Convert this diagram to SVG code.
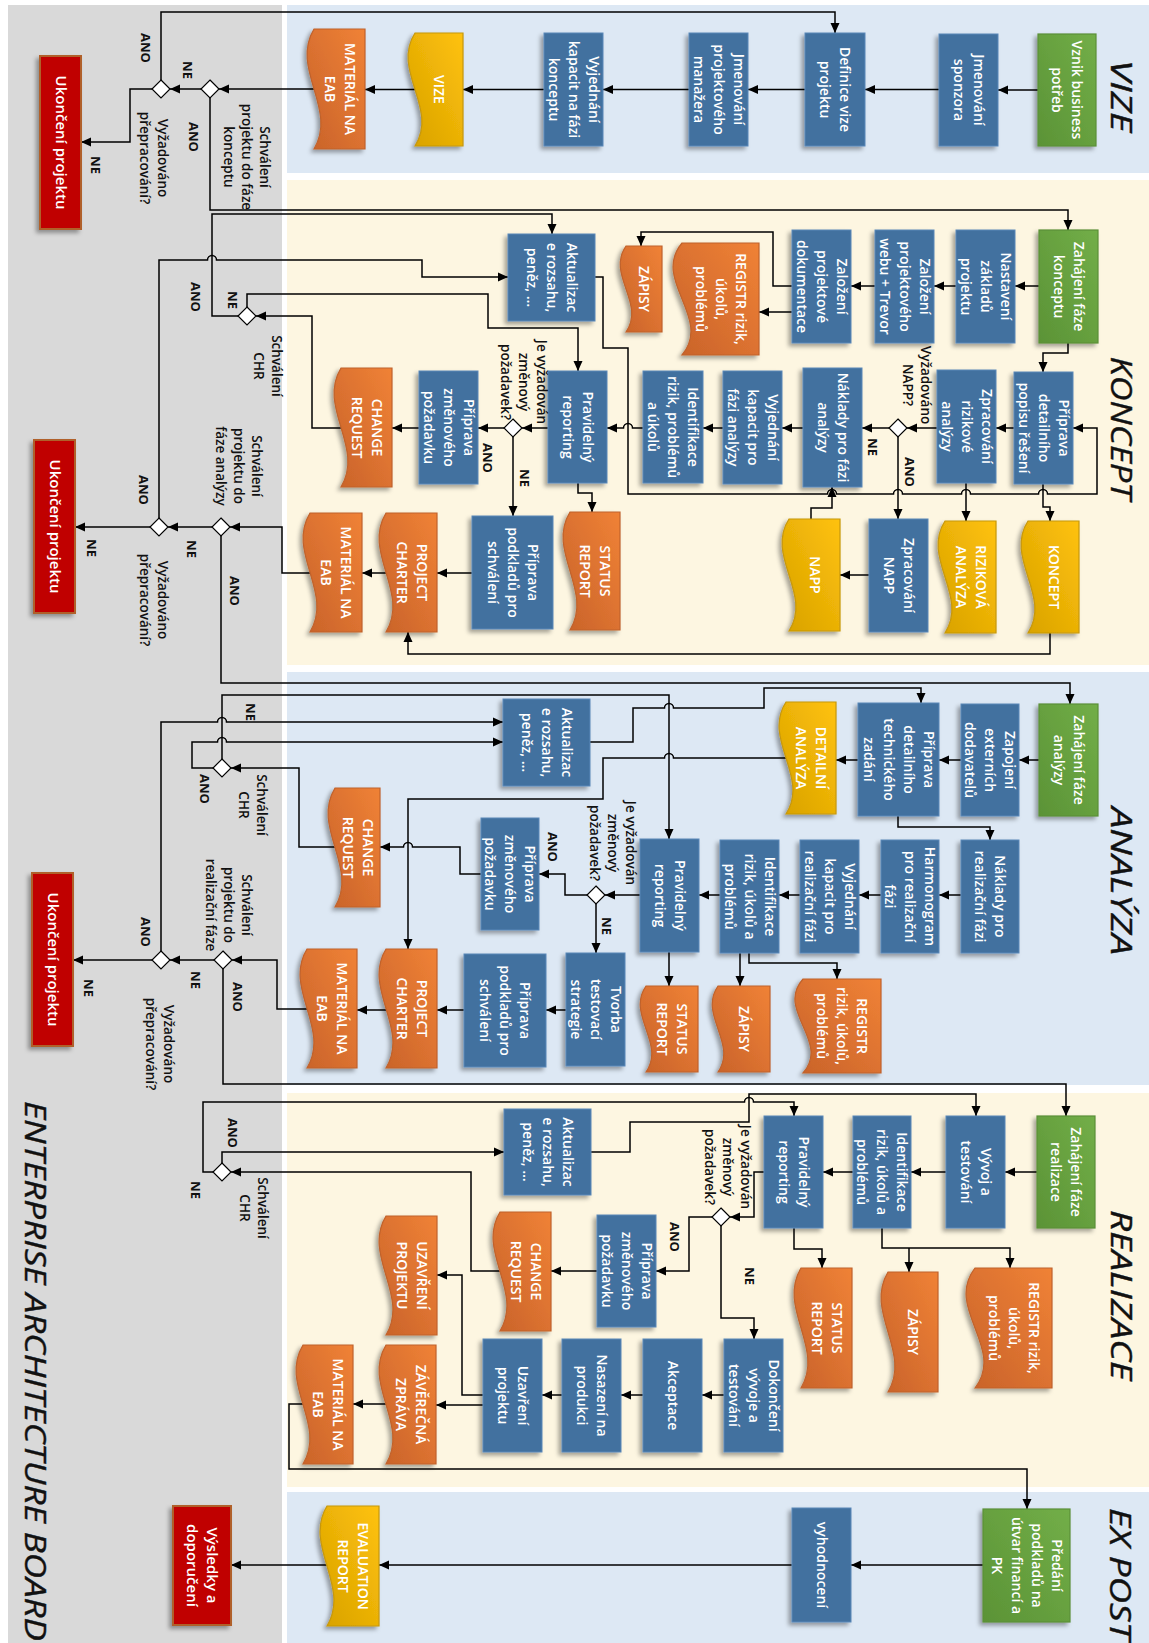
<svg xmlns="http://www.w3.org/2000/svg" width="1149" height="1643" viewBox="0 0 1149 1643">
<defs>
<style>
.lg{fill:#d9d9d9}.lb{fill:#dde8f4}.ly{fill:#fdf6e1}
.p{fill:#43719f;stroke:#5a88b8;stroke-width:1;filter:url(#sh)}
.g{fill:url(#gg);stroke:#5a8f38;stroke-width:1.2;filter:url(#sh)}
.o{fill:url(#go);stroke:#c0622c;stroke-width:1.2;filter:url(#sh)}
.y{fill:url(#gy);stroke:#c6970b;stroke-width:1.2;filter:url(#sh)}
.r{fill:#c00000;stroke:#b0602a;stroke-width:2;filter:url(#sh)}
.d{fill:#fff;stroke:#000;stroke-width:1.2}
.t{font-family:"Open Sans","Liberation Sans",sans-serif;font-size:14px;font-weight:600;fill:#fff;text-anchor:middle}
.tr{font-size:15px}
.l{font-family:"Open Sans","Liberation Sans",sans-serif;font-size:13.5px;font-weight:600;fill:#111;text-anchor:middle}
.b{font-weight:700;font-size:13px}
.ttl{font-family:"Open Sans","DejaVu Sans",sans-serif;font-size:30px;font-style:italic;font-weight:400;fill:#111;stroke:#111;stroke-width:0.4;text-anchor:middle}
.c{fill:none;stroke:#000;stroke-width:1.5;marker-end:url(#ah)}
</style>
<marker id="ah" viewBox="0 0 10 10" refX="10" refY="5" markerWidth="10" markerHeight="10" markerUnits="userSpaceOnUse" orient="auto"><path d="M0,0.5 L10,5 L0,9.5 z" fill="#000"/></marker>
<filter id="sh" x="-25%" y="-15%" width="150%" height="130%"><feDropShadow dx="-3" dy="3" stdDeviation="2" flood-color="#000" flood-opacity="0.35"/></filter>
<linearGradient id="gg" x1="0" y1="1" x2="1" y2="0"><stop offset="0" stop-color="#5b9336"/><stop offset="1" stop-color="#72ae48"/></linearGradient>
<linearGradient id="go" x1="0" y1="1" x2="1" y2="0"><stop offset="0" stop-color="#c8622a"/><stop offset="1" stop-color="#f08236"/></linearGradient>
<linearGradient id="gy" x1="0" y1="1" x2="1" y2="0"><stop offset="0" stop-color="#d7a100"/><stop offset="1" stop-color="#ffc20c"/></linearGradient>
</defs>

<!-- swimlanes -->
<g id="lanes">
<rect class="lg" x="8" y="5" width="274" height="1638"/>
<rect class="lb" x="287" y="5" width="862" height="168"/>
<rect class="ly" x="287" y="180" width="862" height="485"/>
<rect class="lb" x="287" y="672" width="862" height="413"/>
<rect class="ly" x="287" y="1093" width="862" height="394"/>
<rect class="lb" x="287" y="1492" width="862" height="151"/>
<text class="ttl" transform="translate(1122,96) rotate(90)" dy="11" textLength="72" lengthAdjust="spacingAndGlyphs">VIZE</text>
<text class="ttl" transform="translate(1122,428) rotate(90)" dy="11" textLength="143" lengthAdjust="spacingAndGlyphs">KONCEPT</text>
<text class="ttl" transform="translate(1122,881) rotate(90)" dy="11" textLength="148" lengthAdjust="spacingAndGlyphs">ANALÝZA</text>
<text class="ttl" transform="translate(1122,1295) rotate(90)" dy="11" textLength="170" lengthAdjust="spacingAndGlyphs">REALIZACE</text>
<text class="ttl" transform="translate(1121,1574) rotate(90)" dy="11" textLength="132" lengthAdjust="spacingAndGlyphs">EX POST</text>
<text class="ttl" transform="translate(36,1371) rotate(90)" dy="11" textLength="540" lengthAdjust="spacingAndGlyphs">ENTERPRISE ARCHITECTURE BOARD</text>
</g>

<!-- connectors -->
<g id="connectors">
<!-- VIZE -->
<path class="c" d="M1038,90 H998"/>
<path class="c" d="M939,89.5 H865"/>
<path class="c" d="M805,89.5 H748"/>
<path class="c" d="M689,89.5 H603"/>
<path class="c" d="M544,89.5 H463"/>
<path class="c" d="M415,89.5 H365"/>
<path class="c" d="M314,89 H219"/>
<path class="c" d="M201,89 H170"/>
<path class="c" d="M161,80 V12 H835 V33"/>
<path class="c" d="M152,89 H130 V142 H81"/>
<path class="c" d="M210,98 V210 H1068 V230"/>
<!-- KONCEPT -->
<path class="c" d="M1039,286 H1015"/>
<path class="c" d="M956,286 H934"/>
<path class="c" d="M875,286 H851"/>
<path class="c" d="M792,312 H759"/>
<path class="c" d="M792,286 H773 V232 H641 V246"/>
<path class="c" d="M1068,343 V353 H1043 V372"/>
<path class="c" d="M1014,428 H996"/>
<path class="c" d="M937,428 H907"/>
<path class="c" d="M889,428 H862"/>
<path class="c" d="M898,437 V519"/>
<path class="c" d="M803,428 H782"/>
<path class="c" d="M723,428 H703"/>
<path class="c" d="M643,428 H632.5 A4.5,4.5 0 0 0 623.5,428 H607"/>
<path class="c" d="M548,428 H522"/>
<path class="c" d="M504,428 H478"/>
<path class="c" d="M513,437 V516"/>
<path class="c" d="M419,428 H392"/>
<path class="c" d="M341,428 H312 V316 H256"/>
<path class="c" d="M238,316 H212 V214 H552 V234"/>
<path class="c" d="M247,307 V294 H488 V328 H578 V371"/>
<path class="c" d="M578,483 V493 H592 V512"/>
<path class="c" d="M595,277 H603 V348 H628 V494 H827.5 A4.5,4.5 0 0 1 836.5,494 H893.5 A4.5,4.5 0 0 1 902.5,494 H961.5 A4.5,4.5 0 0 1 970.5,494 H1038.5 A4.5,4.5 0 0 1 1047.5,494 H1097 V428 H1073"/>
<path class="c" d="M966,483 V521"/>
<path class="c" d="M1043,484 V507 H1050 V521"/>
<path class="c" d="M811,519 V508 H832 V487"/>
<path class="c" d="M869,575 H840"/>
<path class="c" d="M1050,633 V654 H408 V632"/>
<path class="c" d="M472,573 H437"/>
<path class="c" d="M386,573 H362"/>
<path class="c" d="M310,573 H282 V527 H230"/>
<path class="c" d="M212,527 H168"/>
<path class="c" d="M150,527 H75"/>
<path class="c" d="M159,518 V260 H207.5 A4.5,4.5 0 0 1 216.5,260 H422 V277 H508"/>
<path class="c" d="M221,536 V683 H1070 V704"/>
<!-- ANALYZA -->
<path class="c" d="M1039,760 H1019"/>
<path class="c" d="M961,760 H939"/>
<path class="c" d="M858,760 H836"/>
<path class="c" d="M786,758 H673.5 A4.5,4.5 0 0 0 664.5,758 H603 V799 H408 V949"/>
<path class="c" d="M898,816 V827 H990 V840"/>
<path class="c" d="M590,742 H633 V708 H664.5 A4.5,4.5 0 0 1 673.5,708 H764 V688 H921 V703"/>
<path class="c" d="M961,895 H939"/>
<path class="c" d="M881,895 H859"/>
<path class="c" d="M800,895 H779"/>
<path class="c" d="M720,895 H699"/>
<path class="c" d="M640,895 H605"/>
<path class="c" d="M587,895 H565 V874 H539"/>
<path class="c" d="M596,904 V953"/>
<path class="c" d="M481,874 H460 V847 H412.5 A4.5,4.5 0 0 0 403.5,847 H380"/>
<path class="c" d="M335,847 H299 V768 H231"/>
<path class="c" d="M222,759 V695 H669 V839"/>
<path class="c" d="M213,768 H192 V742 H217.5 A4.5,4.5 0 0 1 226.5,742 H503"/>
<path class="c" d="M161,951 V722 H217.5 A4.5,4.5 0 0 1 226.5,722 H503"/>
<path class="c" d="M566,1010 H546"/>
<path class="c" d="M464,1010 H437"/>
<path class="c" d="M386,1010 H357"/>
<path class="c" d="M307,1009 H277 V960 H232"/>
<path class="c" d="M214,960 H170"/>
<path class="c" d="M152,960 H73"/>
<path class="c" d="M223,969 V1084 H1066 V1116"/>
<path class="c" d="M669,952 V986"/>
<path class="c" d="M740,953 V986"/>
<path class="c" d="M749,953 V963 H837 V979"/>
<!-- REALIZACE -->
<path class="c" d="M1037,1172 H1005"/>
<path class="c" d="M946,1172 H911"/>
<path class="c" d="M853,1172 H823"/>
<path class="c" d="M764,1172 H754 V1217 H730"/>
<path class="c" d="M712,1217 H689 V1271 H656"/>
<path class="c" d="M721,1226 V1318 H754 V1339"/>
<path class="c" d="M597,1271 H551"/>
<path class="c" d="M500,1271 H471 V1172 H231"/>
<path class="c" d="M222,1163 V1152 H504"/>
<path class="c" d="M213,1172 H203 V1102 H744.5 A4.5,4.5 0 0 1 753.5,1102 H794 V1116"/>
<path class="c" d="M591,1152 H630 V1122 H749 V1094 H976 V1116"/>
<path class="c" d="M794,1228 V1249 H822 V1268"/>
<path class="c" d="M882,1228 V1248 H1010 V1268"/>
<path class="c" d="M909,1248 V1272"/>
<path class="c" d="M724,1395 H702"/>
<path class="c" d="M643,1395 H621"/>
<path class="c" d="M562,1395 H542"/>
<path class="c" d="M483,1405 H436"/>
<path class="c" d="M483,1395 H462 V1275 H437"/>
<path class="c" d="M386,1404 H353"/>
<path class="c" d="M303,1404 H289 V1469 H1027 V1509"/>
<!-- EX POST -->
<path class="c" d="M983,1565 H851"/>
<path class="c" d="M792,1565 H379"/>
<path class="c" d="M327,1565 H231"/>
</g>

<!-- VIZE nodes -->
<g id="vznik"><rect class="g" x="1038" y="34" width="58" height="112"/><text class="t" transform="translate(1067,90) rotate(90)"><tspan x="0" dy="-5">Vznik business</tspan><tspan x="0" dy="20">potřeb</tspan></text></g>
<g id="sponzor"><rect class="p" x="939" y="34" width="59" height="112"/><text class="t" transform="translate(968.5,90) rotate(90)"><tspan x="0" dy="-5">Jmenování</tspan><tspan x="0" dy="20">sponzora</tspan></text></g>
<g id="definice"><rect class="p" x="805" y="33" width="60" height="113"/><text class="t" transform="translate(835,89.5) rotate(90)"><tspan x="0" dy="-5">Definice vize</tspan><tspan x="0" dy="20">projektu</tspan></text></g>
<g id="manazer"><rect class="p" x="689" y="33" width="59" height="113"/><text class="t" transform="translate(718.5,89.5) rotate(90)"><tspan x="0" dy="-15">Jmenování</tspan><tspan x="0" dy="20">projektového</tspan><tspan x="0" dy="20">manažera</tspan></text></g>
<g id="kapacit-koncept"><rect class="p" x="544" y="33" width="59" height="113"/><text class="t" transform="translate(573.5,89.5) rotate(90)"><tspan x="0" dy="-15">Vyjednání</tspan><tspan x="0" dy="20">kapacit na fázi</tspan><tspan x="0" dy="20">konceptu</tspan></text></g>
<g id="doc-vize"><path class="y" d="M463,33 H415 C391,70.7 439,108.3 415,146 H463 Z"/><text class="t" transform="translate(439,89.5) rotate(90)"><tspan x="0" dy="5">VIZE</tspan></text></g>
<g id="eab-vize"><path class="o" d="M365,29 H314 C290,69 338,109 314,149 H365 Z"/><text class="t" transform="translate(339.5,89) rotate(90)"><tspan x="0" dy="-5">MATERIÁL NA</tspan><tspan x="0" dy="20">EAB</tspan></text></g>
<g id="dec-vize-schvaleni"><path class="d" d="M210,80 L219,89 L210,98 L201,89 Z"/></g>
<g id="dec-vize-prepracovani"><path class="d" d="M161,80 L170,89 L161,98 L152,89 Z"/></g>
<g id="konec-vize"><rect class="r" x="40" y="56" width="41" height="173"/><text class="t tr" transform="translate(60.5,142.5) rotate(90)"><tspan x="0" dy="5">Ukončení projektu</tspan></text></g>

<!-- KONCEPT nodes -->
<g id="zahajeni-koncept"><rect class="g" x="1039" y="230" width="59" height="113"/><text class="t" transform="translate(1068.5,286.5) rotate(90)"><tspan x="0" dy="-5">Zahájení fáze</tspan><tspan x="0" dy="20">konceptu</tspan></text></g>
<g id="zaklady"><rect class="p" x="956" y="230" width="59" height="113"/><text class="t" transform="translate(985.5,286.5) rotate(90)"><tspan x="0" dy="-15">Nastavení</tspan><tspan x="0" dy="20">základů</tspan><tspan x="0" dy="20">projektu</tspan></text></g>
<g id="web"><rect class="p" x="875" y="230" width="59" height="113"/><text class="t" transform="translate(904.5,286.5) rotate(90)"><tspan x="0" dy="-15">Založení</tspan><tspan x="0" dy="20">projektového</tspan><tspan x="0" dy="20">webu + Trevor</tspan></text></g>
<g id="dokumentace"><rect class="p" x="792" y="230" width="59" height="113"/><text class="t" transform="translate(821.5,286.5) rotate(90)"><tspan x="0" dy="-15">Založení</tspan><tspan x="0" dy="20">projektové</tspan><tspan x="0" dy="20">dokumentace</tspan></text></g>
<g id="registr-koncept"><path class="o" d="M759,243 H682 C651,280.3 713,317.7 682,355 H759 Z"/><text class="t" transform="translate(720.5,299) rotate(90)"><tspan x="0" dy="-15">REGISTR rizik,</tspan><tspan x="0" dy="20">úkolů,</tspan><tspan x="0" dy="20">problémů</tspan></text></g>
<g id="zapisy-koncept"><path class="o" d="M662,246 H626 C606,274.7 646,303.3 626,332 H662 Z"/><text class="t" transform="translate(644,289) rotate(90)"><tspan x="0" dy="5">ZÁPISY</tspan></text></g>
<g id="aktualizace-koncept"><rect class="p" x="508" y="234" width="87" height="87"/><text class="t" transform="translate(551.5,277.5) rotate(90)"><tspan x="0" dy="-15">Aktualizac</tspan><tspan x="0" dy="20">e rozsahu,</tspan><tspan x="0" dy="20">peněz, …</tspan></text></g>
<g id="popis-reseni"><rect class="p" x="1014" y="372" width="59" height="112"/><text class="t" transform="translate(1043.5,428) rotate(90)"><tspan x="0" dy="-15">Příprava</tspan><tspan x="0" dy="20">detailního</tspan><tspan x="0" dy="20">popisu řešení</tspan></text></g>
<g id="rizikova"><rect class="p" x="937" y="370" width="59" height="113"/><text class="t" transform="translate(966.5,426.5) rotate(90)"><tspan x="0" dy="-15">Zpracování</tspan><tspan x="0" dy="20">rizikové</tspan><tspan x="0" dy="20">analýzy</tspan></text></g>
<g id="dec-napp"><path class="d" d="M898,419 L907,428 L898,437 L889,428 Z"/></g>
<g id="naklady-analyza"><rect class="p" x="803" y="368" width="59" height="119"/><text class="t" transform="translate(832.5,427.5) rotate(90)"><tspan x="0" dy="-5">Náklady pro fázi</tspan><tspan x="0" dy="20">analýzy</tspan></text></g>
<g id="kapacit-analyza"><rect class="p" x="723" y="371" width="59" height="113"/><text class="t" transform="translate(752.5,427.5) rotate(90)"><tspan x="0" dy="-15">Vyjednání</tspan><tspan x="0" dy="20">kapacit pro</tspan><tspan x="0" dy="20">fázi analýzy</tspan></text></g>
<g id="rizika-koncept"><rect class="p" x="643" y="371" width="60" height="112"/><text class="t" transform="translate(673,427) rotate(90)"><tspan x="0" dy="-15">Identifikace</tspan><tspan x="0" dy="20">rizik, problémů</tspan><tspan x="0" dy="20">a úkolů</tspan></text></g>
<g id="reporting-koncept"><rect class="p" x="548" y="371" width="59" height="112"/><text class="t" transform="translate(577.5,427) rotate(90)"><tspan x="0" dy="-5">Pravidelný</tspan><tspan x="0" dy="20">reporting</tspan></text></g>
<g id="dec-zmena-koncept"><path class="d" d="M513,419 L522,428 L513,437 L504,428 Z"/></g>
<g id="zmena-koncept"><rect class="p" x="419" y="371" width="59" height="113"/><text class="t" transform="translate(448.5,427.5) rotate(90)"><tspan x="0" dy="-15">Příprava</tspan><tspan x="0" dy="20">změnového</tspan><tspan x="0" dy="20">požadavku</tspan></text></g>
<g id="cr-koncept"><path class="o" d="M392,368 H341 C317,407.7 365,447.3 341,487 H392 Z"/><text class="t" transform="translate(366.5,427.5) rotate(90)"><tspan x="0" dy="-5">CHANGE</tspan><tspan x="0" dy="20">REQUEST</tspan></text></g>
<g id="status-koncept"><path class="o" d="M620,512 H570 C546,551.3 594,590.7 570,630 H620 Z"/><text class="t" transform="translate(595,571) rotate(90)"><tspan x="0" dy="-5">STATUS</tspan><tspan x="0" dy="20">REPORT</tspan></text></g>
<g id="podklady-koncept"><rect class="p" x="472" y="516" width="81" height="113"/><text class="t" transform="translate(512.5,572.5) rotate(90)"><tspan x="0" dy="-15">Příprava</tspan><tspan x="0" dy="20">podkladů pro</tspan><tspan x="0" dy="20">schválení</tspan></text></g>
<g id="charter-koncept"><path class="o" d="M437,513 H386 C362,552.7 410,592.3 386,632 H437 Z"/><text class="t" transform="translate(411.5,572.5) rotate(90)"><tspan x="0" dy="-5">PROJECT</tspan><tspan x="0" dy="20">CHARTER</tspan></text></g>
<g id="eab-koncept"><path class="o" d="M362,513 H310 C286,552.7 334,592.3 310,632 H362 Z"/><text class="t" transform="translate(336,572.5) rotate(90)"><tspan x="0" dy="-5">MATERIÁL NA</tspan><tspan x="0" dy="20">EAB</tspan></text></g>
<g id="napp"><path class="y" d="M840,519 H789 C765,556.3 813,593.7 789,631 H840 Z"/><text class="t" transform="translate(814.5,575) rotate(90)"><tspan x="0" dy="5">NAPP</tspan></text></g>
<g id="zpracovani-napp"><rect class="p" x="869" y="519" width="59" height="113"/><text class="t" transform="translate(898.5,575.5) rotate(90)"><tspan x="0" dy="-5">Zpracování</tspan><tspan x="0" dy="20">NAPP</tspan></text></g>
<g id="rizikova-analyza"><path class="y" d="M996,521 H945 C921,558.3 969,595.7 945,633 H996 Z"/><text class="t" transform="translate(970.5,577) rotate(90)"><tspan x="0" dy="-5">RIZIKOVÁ</tspan><tspan x="0" dy="20">ANALÝZA</tspan></text></g>
<g id="koncept"><path class="y" d="M1079,521 H1028 C1004,558.3 1052,595.7 1028,633 H1079 Z"/><text class="t" transform="translate(1053.5,577) rotate(90)"><tspan x="0" dy="5">KONCEPT</tspan></text></g>
<g id="dec-chr-koncept"><path class="d" d="M247,307 L256,316 L247,325 L238,316 Z"/></g>
<g id="dec-koncept-schvaleni"><path class="d" d="M221,518 L230,527 L221,536 L212,527 Z"/></g>
<g id="dec-koncept-prepracovani"><path class="d" d="M159,518 L168,527 L159,536 L150,527 Z"/></g>
<g id="konec-koncept"><rect class="r" x="34" y="440" width="41" height="173"/><text class="t tr" transform="translate(54.5,526.5) rotate(90)"><tspan x="0" dy="5">Ukončení projektu</tspan></text></g>

<!-- ANALYZA nodes -->
<g id="zahajeni-analyza"><rect class="g" x="1039" y="704" width="59" height="112"/><text class="t" transform="translate(1068.5,760) rotate(90)"><tspan x="0" dy="-5">Zahájení fáze</tspan><tspan x="0" dy="20">analýzy</tspan></text></g>
<g id="dodavatele"><rect class="p" x="961" y="704" width="58" height="112"/><text class="t" transform="translate(990,760) rotate(90)"><tspan x="0" dy="-15">Zapojení</tspan><tspan x="0" dy="20">externích</tspan><tspan x="0" dy="20">dodavatelů</tspan></text></g>
<g id="zadani"><rect class="p" x="858" y="703" width="81" height="113"/><text class="t" transform="translate(898.5,759.5) rotate(90)"><tspan x="0" dy="-25">Příprava</tspan><tspan x="0" dy="20">detailního</tspan><tspan x="0" dy="20">technického</tspan><tspan x="0" dy="20">zadání</tspan></text></g>
<g id="detailni-analyza"><path class="y" d="M836,702 H786 C762,739.3 810,776.7 786,814 H836 Z"/><text class="t" transform="translate(811,758) rotate(90)"><tspan x="0" dy="-5">DETAILNÍ</tspan><tspan x="0" dy="20">ANALÝZA</tspan></text></g>
<g id="aktualizace-analyza"><rect class="p" x="503" y="699" width="87" height="87"/><text class="t" transform="translate(546.5,742.5) rotate(90)"><tspan x="0" dy="-15">Aktualizac</tspan><tspan x="0" dy="20">e rozsahu,</tspan><tspan x="0" dy="20">peněz, …</tspan></text></g>
<g id="naklady-realizace"><rect class="p" x="961" y="840" width="58" height="113"/><text class="t" transform="translate(990,896.5) rotate(90)"><tspan x="0" dy="-5">Náklady pro</tspan><tspan x="0" dy="20">realizační fázi</tspan></text></g>
<g id="harmonogram"><rect class="p" x="881" y="840" width="58" height="113"/><text class="t" transform="translate(910,896.5) rotate(90)"><tspan x="0" dy="-15">Harmonogram</tspan><tspan x="0" dy="20">pro realizační</tspan><tspan x="0" dy="20">fázi</tspan></text></g>
<g id="kapacit-realizace"><rect class="p" x="800" y="840" width="59" height="113"/><text class="t" transform="translate(829.5,896.5) rotate(90)"><tspan x="0" dy="-15">Vyjednání</tspan><tspan x="0" dy="20">kapacit pro</tspan><tspan x="0" dy="20">realizační fázi</tspan></text></g>
<g id="rizika-analyza"><rect class="p" x="720" y="840" width="59" height="113"/><text class="t" transform="translate(749.5,896.5) rotate(90)"><tspan x="0" dy="-15">Identifikace</tspan><tspan x="0" dy="20">rizik, úkolů a</tspan><tspan x="0" dy="20">problémů</tspan></text></g>
<g id="reporting-analyza"><rect class="p" x="640" y="839" width="59" height="113"/><text class="t" transform="translate(669.5,895.5) rotate(90)"><tspan x="0" dy="-5">Pravidelný</tspan><tspan x="0" dy="20">reporting</tspan></text></g>
<g id="dec-zmena-analyza"><path class="d" d="M596,886 L605,895 L596,904 L587,895 Z"/></g>
<g id="zmena-analyza"><rect class="p" x="481" y="818" width="58" height="112"/><text class="t" transform="translate(510,874) rotate(90)"><tspan x="0" dy="-15">Příprava</tspan><tspan x="0" dy="20">změnového</tspan><tspan x="0" dy="20">požadavku</tspan></text></g>
<g id="cr-analyza"><path class="o" d="M380,788 H335 C311,827.7 359,867.3 335,907 H380 Z"/><text class="t" transform="translate(357.5,847.5) rotate(90)"><tspan x="0" dy="-5">CHANGE</tspan><tspan x="0" dy="20">REQUEST</tspan></text></g>
<g id="testovaci-strategie"><rect class="p" x="566" y="953" width="59" height="113"/><text class="t" transform="translate(595.5,1009.5) rotate(90)"><tspan x="0" dy="-15">Tvorba</tspan><tspan x="0" dy="20">testovací</tspan><tspan x="0" dy="20">strategie</tspan></text></g>
<g id="podklady-analyza"><rect class="p" x="464" y="954" width="82" height="113"/><text class="t" transform="translate(505,1010.5) rotate(90)"><tspan x="0" dy="-15">Příprava</tspan><tspan x="0" dy="20">podkladů pro</tspan><tspan x="0" dy="20">schválení</tspan></text></g>
<g id="charter-analyza"><path class="o" d="M437,949 H386 C362,988.7 410,1028.3 386,1068 H437 Z"/><text class="t" transform="translate(411.5,1008.5) rotate(90)"><tspan x="0" dy="-5">PROJECT</tspan><tspan x="0" dy="20">CHARTER</tspan></text></g>
<g id="eab-analyza"><path class="o" d="M357,949 H307 C283,988.7 331,1028.3 307,1068 H357 Z"/><text class="t" transform="translate(332,1008.5) rotate(90)"><tspan x="0" dy="-5">MATERIÁL NA</tspan><tspan x="0" dy="20">EAB</tspan></text></g>
<g id="status-analyza"><path class="o" d="M698,986 H646 C626,1014.7 666,1043.3 646,1072 H698 Z"/><text class="t" transform="translate(672,1029) rotate(90)"><tspan x="0" dy="-5">STATUS</tspan><tspan x="0" dy="20">REPORT</tspan></text></g>
<g id="zapisy-analyza"><path class="o" d="M770,986 H718 C698,1014.7 738,1043.3 718,1072 H770 Z"/><text class="t" transform="translate(744,1029) rotate(90)"><tspan x="0" dy="5">ZÁPISY</tspan></text></g>
<g id="registr-analyza"><path class="o" d="M881,979 H803 C775,1010.3 831,1041.7 803,1073 H881 Z"/><text class="t" transform="translate(842,1026) rotate(90)"><tspan x="0" dy="-15">REGISTR</tspan><tspan x="0" dy="20">rizik, úkolů,</tspan><tspan x="0" dy="20">problémů</tspan></text></g>
<g id="dec-chr-analyza"><path class="d" d="M222,759 L231,768 L222,777 L213,768 Z"/></g>
<g id="dec-analyza-schvaleni"><path class="d" d="M223,951 L232,960 L223,969 L214,960 Z"/></g>
<g id="dec-analyza-prepracovani"><path class="d" d="M161,951 L170,960 L161,969 L152,960 Z"/></g>
<g id="konec-analyza"><rect class="r" x="32" y="873" width="41" height="173"/><text class="t tr" transform="translate(52.5,959.5) rotate(90)"><tspan x="0" dy="5">Ukončení projektu</tspan></text></g>

<!-- REALIZACE nodes -->
<g id="zahajeni-realizace"><rect class="g" x="1037" y="1116" width="58" height="112"/><text class="t" transform="translate(1066,1172) rotate(90)"><tspan x="0" dy="-5">Zahájení fáze</tspan><tspan x="0" dy="20">realizace</tspan></text></g>
<g id="vyvoj"><rect class="p" x="946" y="1116" width="59" height="112"/><text class="t" transform="translate(975.5,1172) rotate(90)"><tspan x="0" dy="-5">Vývoj a</tspan><tspan x="0" dy="20">testování</tspan></text></g>
<g id="rizika-realizace"><rect class="p" x="853" y="1116" width="58" height="112"/><text class="t" transform="translate(882,1172) rotate(90)"><tspan x="0" dy="-15">Identifikace</tspan><tspan x="0" dy="20">rizik, úkolů a</tspan><tspan x="0" dy="20">problémů</tspan></text></g>
<g id="reporting-realizace"><rect class="p" x="764" y="1116" width="59" height="112"/><text class="t" transform="translate(793.5,1172) rotate(90)"><tspan x="0" dy="-5">Pravidelný</tspan><tspan x="0" dy="20">reporting</tspan></text></g>
<g id="dec-zmena-realizace"><path class="d" d="M721,1208 L730,1217 L721,1226 L712,1217 Z"/></g>
<g id="aktualizace-realizace"><rect class="p" x="504" y="1109" width="87" height="86"/><text class="t" transform="translate(547.5,1152) rotate(90)"><tspan x="0" dy="-15">Aktualizac</tspan><tspan x="0" dy="20">e rozsahu,</tspan><tspan x="0" dy="20">peněz, …</tspan></text></g>
<g id="zmena-realizace"><rect class="p" x="597" y="1215" width="59" height="112"/><text class="t" transform="translate(626.5,1271) rotate(90)"><tspan x="0" dy="-15">Příprava</tspan><tspan x="0" dy="20">změnového</tspan><tspan x="0" dy="20">požadavku</tspan></text></g>
<g id="cr-realizace"><path class="o" d="M551,1212 H500 C476,1251.7 524,1291.3 500,1331 H551 Z"/><text class="t" transform="translate(525.5,1271.5) rotate(90)"><tspan x="0" dy="-5">CHANGE</tspan><tspan x="0" dy="20">REQUEST</tspan></text></g>
<g id="uzavreni-doc"><path class="o" d="M437,1216 H386 C362,1255.7 410,1295.3 386,1335 H437 Z"/><text class="t" transform="translate(411.5,1275.5) rotate(90)"><tspan x="0" dy="-5">UZAVŘENÍ</tspan><tspan x="0" dy="20">PROJEKTU</tspan></text></g>
<g id="status-realizace"><path class="o" d="M852,1268 H801 C777,1308 825,1348 801,1388 H852 Z"/><text class="t" transform="translate(826.5,1328) rotate(90)"><tspan x="0" dy="-5">STATUS</tspan><tspan x="0" dy="20">REPORT</tspan></text></g>
<g id="zapisy-realizace"><path class="o" d="M938,1272 H888 C864,1312 912,1352 888,1392 H938 Z"/><text class="t" transform="translate(913,1332) rotate(90)"><tspan x="0" dy="5">ZÁPISY</tspan></text></g>
<g id="registr-realizace"><path class="o" d="M1052,1268 H975 C944,1308 1006,1348 975,1388 H1052 Z"/><text class="t" transform="translate(1013.5,1328) rotate(90)"><tspan x="0" dy="-15">REGISTR rizik,</tspan><tspan x="0" dy="20">úkolů,</tspan><tspan x="0" dy="20">problémů</tspan></text></g>
<g id="dokonceni"><rect class="p" x="724" y="1339" width="59" height="113"/><text class="t" transform="translate(753.5,1395.5) rotate(90)"><tspan x="0" dy="-15">Dokončení</tspan><tspan x="0" dy="20">vývoje a</tspan><tspan x="0" dy="20">testování</tspan></text></g>
<g id="akceptace"><rect class="p" x="643" y="1339" width="59" height="113"/><text class="t" transform="translate(672.5,1395.5) rotate(90)"><tspan x="0" dy="5">Akceptace</tspan></text></g>
<g id="nasazeni"><rect class="p" x="562" y="1339" width="59" height="113"/><text class="t" transform="translate(591.5,1395.5) rotate(90)"><tspan x="0" dy="-5">Nasazení na</tspan><tspan x="0" dy="20">produkci</tspan></text></g>
<g id="uzavreni"><rect class="p" x="483" y="1339" width="59" height="113"/><text class="t" transform="translate(512.5,1395.5) rotate(90)"><tspan x="0" dy="-5">Uzavření</tspan><tspan x="0" dy="20">projektu</tspan></text></g>
<g id="zaverecna-zprava"><path class="o" d="M436,1345 H386 C362,1384.7 410,1424.3 386,1464 H436 Z"/><text class="t" transform="translate(411,1404.5) rotate(90)"><tspan x="0" dy="-5">ZÁVĚREČNÁ</tspan><tspan x="0" dy="20">ZPRÁVA</tspan></text></g>
<g id="eab-realizace"><path class="o" d="M353,1345 H303 C279,1384.7 327,1424.3 303,1464 H353 Z"/><text class="t" transform="translate(328,1404.5) rotate(90)"><tspan x="0" dy="-5">MATERIÁL NA</tspan><tspan x="0" dy="20">EAB</tspan></text></g>
<g id="dec-chr-realizace"><path class="d" d="M222,1163 L231,1172 L222,1181 L213,1172 Z"/></g>

<!-- EX POST nodes -->
<g id="predani"><rect class="g" x="983" y="1509" width="87" height="113"/><text class="t" transform="translate(1026.5,1565.5) rotate(90)"><tspan x="0" dy="-25">Předání</tspan><tspan x="0" dy="20">podkladů na</tspan><tspan x="0" dy="20">útvar financí a</tspan><tspan x="0" dy="20">PK</tspan></text></g>
<g id="vyhodnoceni"><rect class="p" x="792" y="1508" width="59" height="114"/><text class="t" transform="translate(821.5,1565) rotate(90)"><tspan x="0" dy="5">vyhodnocení</tspan></text></g>
<g id="evaluation-report"><path class="y" d="M379,1506 H327 C303,1546 351,1586 327,1626 H379 Z"/><text class="t" transform="translate(353,1566) rotate(90)"><tspan x="0" dy="-5">EVALUATION</tspan><tspan x="0" dy="20">REPORT</tspan></text></g>
<g id="vysledky"><rect class="r" x="173" y="1506" width="58" height="119"/><text class="t tr" transform="translate(202,1565.5) rotate(90)"><tspan x="0" dy="-5">Výsledky a</tspan><tspan x="0" dy="20">doporučení</tspan></text></g>

<!-- decision and branch labels -->
<g id="labels">
<text class="l b" transform="translate(146,48) rotate(90)" dy="5">ANO</text>
<text class="l b" transform="translate(188,70) rotate(90)" dy="5">NE</text>
<text class="l b" transform="translate(194,137) rotate(90)" dy="5">ANO</text>
<text class="l b" transform="translate(96,165) rotate(90)" dy="5">NE</text>
<text class="l" transform="translate(246.5,157) rotate(90)"><tspan x="0" dy="-13">Schválení</tspan><tspan x="0" dy="18">projektu do fáze</tspan><tspan x="0" dy="18">konceptu</tspan></text>
<text class="l" transform="translate(154,158) rotate(90)"><tspan x="0" dy="-4">Vyžadováno</tspan><tspan x="0" dy="18">přepracování?</tspan></text>

<text class="l" transform="translate(268,366) rotate(90)"><tspan x="0" dy="-4">Schválení</tspan><tspan x="0" dy="18">CHR</tspan></text>
<text class="l b" transform="translate(196,297) rotate(90)" dy="5">ANO</text>
<text class="l b" transform="translate(233,300) rotate(90)" dy="5">NE</text>
<text class="l" transform="translate(917,385) rotate(90)"><tspan x="0" dy="-4">Vyžadováno</tspan><tspan x="0" dy="18">NAPP?</tspan></text>
<text class="l b" transform="translate(873,447) rotate(90)" dy="5">NE</text>
<text class="l b" transform="translate(910,472) rotate(90)" dy="5">ANO</text>
<text class="l" transform="translate(523.5,382) rotate(90)"><tspan x="0" dy="-13">Je vyžadován</tspan><tspan x="0" dy="18">změnový</tspan><tspan x="0" dy="18">požadavek?</tspan></text>
<text class="l b" transform="translate(488,458) rotate(90)" dy="5">ANO</text>
<text class="l b" transform="translate(525,478) rotate(90)" dy="5">NE</text>
<text class="l" transform="translate(238.5,466) rotate(90)"><tspan x="0" dy="-13">Schválení</tspan><tspan x="0" dy="18">projektu do</tspan><tspan x="0" dy="18">fáze analýzy</tspan></text>
<text class="l" transform="translate(154,600) rotate(90)"><tspan x="0" dy="-4">Vyžadováno</tspan><tspan x="0" dy="18">přepracování?</tspan></text>
<text class="l b" transform="translate(192,549) rotate(90)" dy="5">NE</text>
<text class="l b" transform="translate(92,548) rotate(90)" dy="5">NE</text>
<text class="l b" transform="translate(144,490) rotate(90)" dy="5">ANO</text>
<text class="l b" transform="translate(235,591) rotate(90)" dy="5">ANO</text>

<text class="l b" transform="translate(251,712) rotate(90)" dy="5">NE</text>
<text class="l b" transform="translate(205,789) rotate(90)" dy="5">ANO</text>
<text class="l" transform="translate(253,805) rotate(90)"><tspan x="0" dy="-4">Schválení</tspan><tspan x="0" dy="18">CHR</tspan></text>
<text class="l" transform="translate(612.5,843) rotate(90)"><tspan x="0" dy="-13">Je vyžadován</tspan><tspan x="0" dy="18">změnový</tspan><tspan x="0" dy="18">požadavek?</tspan></text>
<text class="l b" transform="translate(553,847) rotate(90)" dy="5">ANO</text>
<text class="l b" transform="translate(607,926) rotate(90)" dy="5">NE</text>
<text class="l" transform="translate(228.5,905) rotate(90)"><tspan x="0" dy="-13">Schválení</tspan><tspan x="0" dy="18">projektu do</tspan><tspan x="0" dy="18">realizační fáze</tspan></text>
<text class="l" transform="translate(160,1044) rotate(90)"><tspan x="0" dy="-4">Vyžadováno</tspan><tspan x="0" dy="18">přepracování?</tspan></text>
<text class="l b" transform="translate(146,932) rotate(90)" dy="5">ANO</text>
<text class="l b" transform="translate(196,980) rotate(90)" dy="5">NE</text>
<text class="l b" transform="translate(89,988) rotate(90)" dy="5">NE</text>
<text class="l b" transform="translate(238,997) rotate(90)" dy="5">ANO</text>

<text class="l b" transform="translate(233,1133) rotate(90)" dy="5">ANO</text>
<text class="l b" transform="translate(196,1190) rotate(90)" dy="5">NE</text>
<text class="l" transform="translate(254,1208) rotate(90)"><tspan x="0" dy="-4">Schválení</tspan><tspan x="0" dy="18">CHR</tspan></text>
<text class="l" transform="translate(727.5,1167) rotate(90)"><tspan x="0" dy="-13">Je vyžadován</tspan><tspan x="0" dy="18">změnový</tspan><tspan x="0" dy="18">požadavek?</tspan></text>
<text class="l b" transform="translate(675,1237) rotate(90)" dy="5">ANO</text>
<text class="l b" transform="translate(750,1276) rotate(90)" dy="5">NE</text>
</g>
</svg>
